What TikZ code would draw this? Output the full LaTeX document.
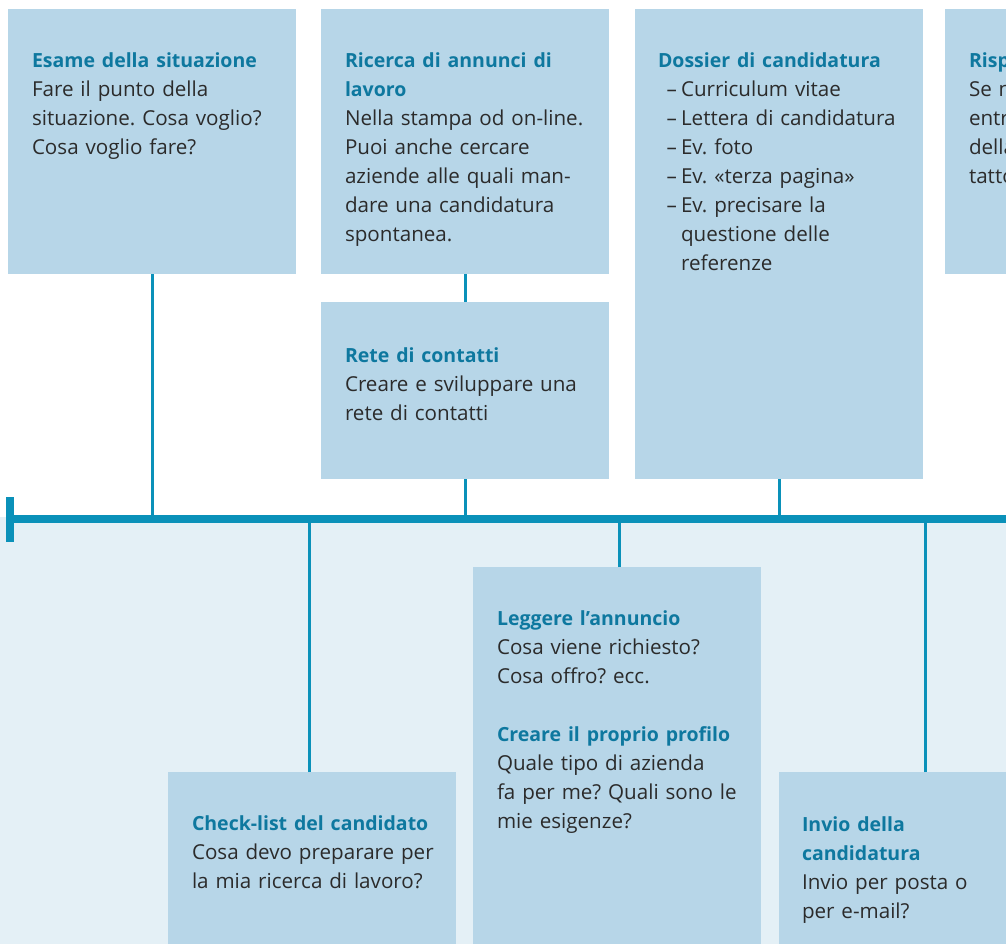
\documentclass[tikz,border=0pt]{standalone}
\usepackage{fontspec}
\setmainfont{Open Sans}
\frenchspacing
\definecolor{boxfill}{HTML}{B7D6E8}
\definecolor{lightbg}{HTML}{E4F0F6}
\definecolor{linecol}{HTML}{0A91B9}
\definecolor{titlecol}{HTML}{0E789F}
\definecolor{bodycol}{HTML}{2B2B2B}
\newcommand{\ttl}[1]{{\fontsize{19.5}{29}\selectfont\bfseries\color{titlecol}#1}}
\newcommand{\itm}{\makebox[23pt][r]{–\hspace{4pt}}}
\newcommand{\ind}{\hspace*{23pt}}
\begin{document}
\begin{tikzpicture}[x=1pt,y=-1pt,
  box/.style={fill=boxfill, draw=none, inner sep=0pt, outer sep=0pt, anchor=north west, minimum width=288pt},
  txt/.style={anchor=base west, inner sep=0pt, outer sep=0pt, text width=300pt, align=left, text=bodycol,
    font=\fontsize{20.6}{29}\selectfont},
  conn/.style={draw=linecol, line width=3pt}]
\useasboundingbox (0,0) rectangle (1006,944);
\clip (0,0) rectangle (1006,944);
\fill[lightbg] (0,517) rectangle (1006,944);

% top boxes
\node[box, minimum height=265pt] (b1) at (8,9) {};
\node[box, minimum height=265pt] (b2) at (321,9) {};
\node[box, minimum height=177pt] (b3) at (321,302) {};
\node[box, minimum height=470pt] (b4) at (635,9) {};
\node[box, minimum height=265pt] (b5) at (945,9) {};
% bottom boxes
\node[box, minimum height=180pt] (c1) at (168,772) {};
\node[box, minimum height=385pt] (c2) at (473,567) {};
\node[box, minimum height=180pt] (c3) at (779,772) {};

% timeline
\node[fill=linecol, inner sep=0pt, outer sep=0pt, anchor=north west, minimum width=992pt, minimum height=8pt] (tl) at (14,515) {};
\node[fill=linecol, inner sep=0pt, outer sep=0pt, anchor=north west, minimum width=8pt, minimum height=45pt] (mk) at (6,497) {};

% connectors
\draw[conn] (b1.south) -- (b1.south |- tl.north);
\draw[conn] (b2.south) -- (b3.north);
\draw[conn] (b3.south) -- (b3.south |- tl.north);
\draw[conn] (b4.south) -- (b4.south |- tl.north);
\draw[conn] ([xshift=-3pt]c1.north) -- ([xshift=-3pt]c1.north |- tl.south);
\draw[conn] ([xshift=2pt]c2.north) -- ([xshift=2pt]c2.north |- tl.south);
\draw[conn] ([xshift=2pt]c3.north) -- ([xshift=2pt]c3.north |- tl.south);

% texts
\node[txt] (t1) at (32,68) {\ttl{Esame della situazione}\\Fare il punto della\\situazione. Cosa voglio?\\Cosa voglio fare?};
\node[txt] (t2) at (345,68) {\ttl{Ricerca di annunci di}\\\ttl{lavoro}\\Nella stampa od on-line.\\Puoi anche cercare\\aziende alle quali man-\\dare una candidatura\\spontanea.};
\node[txt] (t3) at (345,362) {\ttl{Rete di contatti}\\Creare e sviluppare una\\rete di contatti};
\node[txt] (t4) at (658,68) {\ttl{Dossier di candidatura}\\\itm Curriculum vitae\\\itm Lettera di candidatura\\\itm Ev. foto\\\itm Ev. «terza pagina»\\\itm Ev. precisare la\\\ind questione delle\\\ind referenze};
\node[txt] (t5) at (969,68) {\ttl{Risposta}\\Se non\\entro\\della\\tatto};
\node[txt] (u1) at (192,830) {\ttl{Check-list del candidato}\\Cosa devo preparare per\\la mia ricerca di lavoro?};
\node[txt] (u2) at (497,625) {\ttl{Leggere l’annuncio}\\Cosa viene richiesto?\\Cosa offro? ecc.\\[29pt]\ttl{Creare il proprio profilo}\\Quale tipo di azienda\\fa per me? Quali sono le\\mie esigenze?};
\node[txt] (u3) at (802,831) {\ttl{Invio della}\\\ttl{candidatura}\\Invio per posta o\\per e-mail?};
\end{tikzpicture}
\end{document}
